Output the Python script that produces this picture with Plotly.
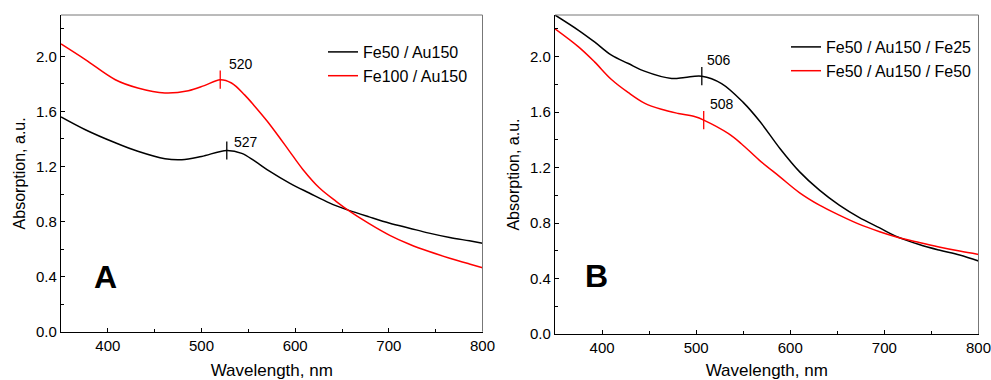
import plotly.graph_objects as go

# ---------------- data ----------------
# Panel A
wl_a_black = [350, 376, 408, 432, 461, 479, 500, 527, 543, 557, 573, 594, 615, 637, 656, 679, 701, 722, 743, 765, 786, 800]
ab_a_black = [1.56, 1.467, 1.372, 1.31, 1.256, 1.249, 1.273, 1.316, 1.295, 1.238, 1.164, 1.079, 1.007, 0.934, 0.885, 0.834, 0.788, 0.752, 0.716, 0.684, 0.66, 0.643]
wl_a_red = [350, 376, 408, 432, 461, 486, 503, 520, 532, 546, 557, 570, 585, 594, 608, 626, 644, 656, 679, 701, 722, 743, 765, 786, 800]
ab_a_red = [2.09, 1.976, 1.83, 1.77, 1.734, 1.75, 1.787, 1.83, 1.806, 1.72, 1.636, 1.53, 1.394, 1.31, 1.18, 1.043, 0.945, 0.885, 0.785, 0.70, 0.635, 0.582, 0.534, 0.492, 0.465]
peaks_a_wl = [527, 520]
peaks_a_ab = [1.316, 1.83]
peaks_a_txt = ["527", "520"]

# Panel B
wl_b_black = [350, 375, 392, 410, 428, 445, 474, 488, 506, 527, 550, 568, 589, 610, 631, 652, 673, 695, 712, 737, 758, 780, 800]
ab_b_black = [2.30, 2.19, 2.106, 2.01, 1.95, 1.895, 1.842, 1.85, 1.859, 1.806, 1.67, 1.53, 1.338, 1.169, 1.037, 0.929, 0.841, 0.765, 0.706, 0.645, 0.605, 0.569, 0.526]
wl_b_red = [350, 375, 392, 410, 428, 445, 463, 481, 499, 508, 534, 548, 567, 589, 610, 631, 652, 673, 695, 712, 737, 758, 780, 800]
ab_b_red = [2.20, 2.07, 1.962, 1.835, 1.74, 1.665, 1.62, 1.59, 1.566, 1.542, 1.446, 1.372, 1.254, 1.133, 1.018, 0.929, 0.857, 0.792, 0.737, 0.701, 0.66, 0.628, 0.598, 0.574]
peaks_b_wl = [506, 508]
peaks_b_ab = [1.859, 1.542]
peaks_b_txt = ["506", "508"]

names_a = ["Fe50 / Au150", "Fe100 / Au150"]
names_b = ["Fe50 / Au150 / Fe25", "Fe50 / Au150 / Fe50"]
panel_labels = ["A", "B"]
colors = ["#000000", "#ff0000"]

FONT = "Arial, Liberation Sans, sans-serif"
W, H = 991, 380

fig = go.Figure()
annotations = []

# per-label offsets of peak labels (pixels)
label_shift = {"a": [(5, 8), (7, 16)], "b": [(3, 16), (4, 16)]}

def add_panel(key, wls, abs_, names, pk_wl, pk_ab, pk_txt, xa, ya, legend):
    for wl, ab, nm, c in zip(wls, abs_, names, colors):
        fig.add_trace(go.Scatter(x=wl, y=ab, mode="lines", name=nm,
                                 line=dict(color=c, width=1.5, shape="spline", smoothing=1.0),
                                 xaxis=xa, yaxis=ya, legend=legend))
    for i in range(len(pk_wl)):
        fig.add_trace(go.Scatter(x=[pk_wl[i]], y=[pk_ab[i]], mode="markers",
                                 marker=dict(symbol="line-ns", size=13,
                                             line=dict(color=colors[i], width=1.3)),
                                 showlegend=False, hoverinfo="skip",
                                 xaxis=xa, yaxis=ya, legend=legend))
        dx, dy = label_shift[key][i]
        annotations.append(dict(text=pk_txt[i], x=pk_wl[i], y=pk_ab[i], xref=xa, yref=ya,
                                xanchor="left", yanchor="middle", xshift=dx, yshift=dy,
                                showarrow=False,
                                font=dict(family=FONT, size=14, color="#000")))

add_panel("a", [wl_a_black, wl_a_red], [ab_a_black, ab_a_red], names_a,
          peaks_a_wl, peaks_a_ab, peaks_a_txt, "x", "y", "legend")
add_panel("b", [wl_b_black, wl_b_red], [ab_b_black, ab_b_red], names_b,
          peaks_b_wl, peaks_b_ab, peaks_b_txt, "x2", "y2", "legend2")

def xax(domain, anchor):
    return dict(domain=domain, anchor=anchor, range=[350, 800], tickmode="linear",
                tick0=400, dtick=100, ticks="inside", ticklen=4, tickwidth=1,
                tickcolor="#000", showline=True, linecolor="#000", linewidth=1.2,
                mirror=False, showgrid=False, zeroline=False, ticklabeloverflow="allow",
                tickfont=dict(family=FONT, size=15, color="#000"),
                minor=dict(ticks="inside", ticklen=3, dtick=50, tick0=350, tickcolor="#000"),
                title=dict(text="Wavelength, nm", standoff=14,
                           font=dict(family=FONT, size=17, color="#000")),
                automargin=False)

def yax(domain, anchor):
    return dict(domain=domain, anchor=anchor, range=[0, 2.3], tickmode="linear",
                tick0=0, dtick=0.4, tickformat=".1f", ticks="inside", ticklen=4,
                tickwidth=1, tickcolor="#000", showline=True, linecolor="#000",
                linewidth=1.2, mirror=False, showgrid=False, zeroline=False,
                ticklabeloverflow="allow",
                tickfont=dict(family=FONT, size=15, color="#000"),
                minor=dict(ticks="inside", ticklen=3, dtick=0.2, tick0=0, tickcolor="#000"),
                title=dict(text="Absorption, a.u.", standoff=6,
                           font=dict(family=FONT, size=16, color="#000")),
                automargin=False)

xa_dom = [61 / W, 482.5 / W]
xb_dom = [555 / W, 978.5 / W]
ya_dom = [1 - 331.7 / H, 1 - 15 / H]
yb_dom = [1 - 334 / H, 1 - 15 / H]

leg_common = dict(font=dict(family=FONT, size=16, color="#000"), bgcolor="rgba(0,0,0,0)",
                  borderwidth=0, tracegroupgap=0, itemwidth=30,
                  xanchor="left", yanchor="top")

annotations += [
    dict(text="<b>%s</b>" % panel_labels[0], x=105 / W, y=1 - 276.5 / H, xref="paper",
         yref="paper", xanchor="center", yanchor="middle", showarrow=False,
         font=dict(family=FONT, size=32, color="#000")),
    dict(text="<b>%s</b>" % panel_labels[1], x=596 / W, y=1 - 275.5 / H, xref="paper",
         yref="paper", xanchor="center", yanchor="middle", showarrow=False,
         font=dict(family=FONT, size=32, color="#000")),
]

frame = []
for xr, yr in [("x", "y"), ("x2", "y2")]:
    frame.append(dict(type="line", xref=xr + " domain", yref=yr + " domain",
                      x0=0, x1=1, y0=1, y1=1, line=dict(color="#777", width=1)))
    frame.append(dict(type="line", xref=xr + " domain", yref=yr + " domain",
                      x0=1, x1=1, y0=0, y1=1, line=dict(color="#777", width=1)))

fig.update_layout(
    width=W, height=H,
    margin=dict(l=0, r=0, t=0, b=0),
    paper_bgcolor="white", plot_bgcolor="white",
    xaxis=xax(xa_dom, "y"), yaxis=yax(ya_dom, "x"),
    xaxis2=xax(xb_dom, "y2"), yaxis2=yax(yb_dom, "x2"),
    legend=dict(x=323 / W, y=1 - 35 / H, **leg_common),
    legend2=dict(x=786 / W, y=1 - 30 / H, **leg_common),
    shapes=frame,
    annotations=annotations,
)

fig.write_html("out.html")
